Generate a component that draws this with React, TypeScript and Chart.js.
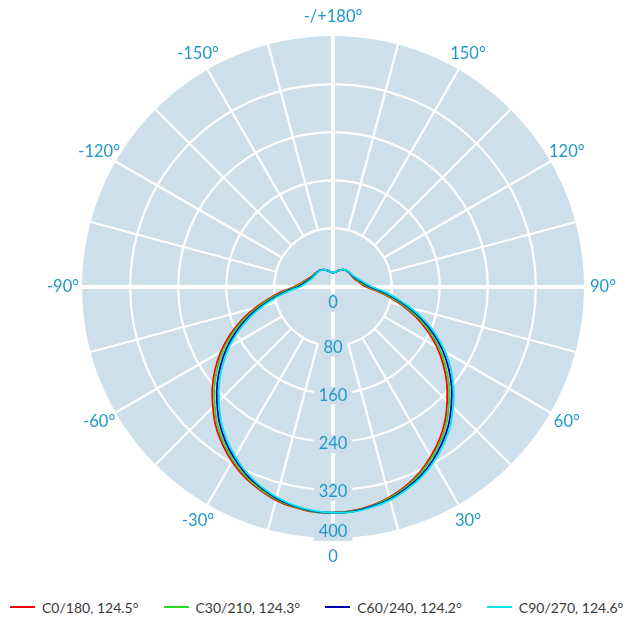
import React, { useEffect, useRef } from 'react';
import { Chart, registerables } from 'chart.js';

Chart.register(...registerables);

// Gamma angles (degrees), clockwise from top (180) through right (90), bottom (0), left (-90)
const gammaAngles = [
  180, 175, 170, 165, 160, 155, 150, 145, 140, 135, 130, 125, 120, 115, 110, 105, 100, 95,
  90, 85, 80, 75, 70, 65, 60, 55, 50, 45, 40, 35, 30, 25, 20, 15, 10, 5,
  0, -5, -10, -15, -20, -25, -30, -35, -40, -45, -50, -55, -60, -65, -70, -75, -80, -85,
  -90, -95, -100, -105, -110, -115, -120, -125, -130, -135, -140, -145, -150, -155, -160, -165, -170, -175,
];

const radialTicks = [0, 80, 160, 240, 320, 400];
const angleLabelValues = [180, 150, 120, 90, 60, 30, 0, -30, -60, -90, -120, -150];

// Luminous intensity (cd/klm) per C-plane, aligned with gammaAngles
const c0_180 = [
  6, 7, 8, 10, 12, 14, 16, 16.5, 17.5, 17.5, 18.5, 18, 19, 19.5, 21, 23.5, 27, 31,
  38, 55, 76.5, 102, 129.5, 156, 182, 206, 229.5, 251, 272.5, 291.5, 308, 323, 335, 344.5, 351.5, 356,
  358, 358, 354.5, 349.5, 341, 331, 318, 302.5, 285.5, 265, 244.5, 222, 198, 172, 144.5, 116, 89.5, 67,
  48, 39, 33, 28.5, 25, 22.5, 21, 20, 19.5, 18.5, 18.5, 17.5, 16, 14, 12, 10, 8, 7,
];
const c30_210 = [
  6, 7, 8, 10, 12, 14, 16, 16.8, 17.8, 17.8, 18.8, 18.6, 19.6, 20.4, 22.2, 25, 28.8, 33.4,
  41, 58.6, 80.4, 106.2, 134, 160.8, 186.8, 210.8, 234, 255.2, 276.4, 294.8, 311, 325.4, 336.8, 346, 352.4, 356.6,
  358, 357.4, 353.6, 348, 339.2, 328.6, 315, 299.2, 281.6, 260.8, 240, 217.2, 193.2, 167.2, 140, 111.8, 85.6, 63.4,
  45, 36.6, 31.2, 27, 23.8, 21.6, 20.4, 19.4, 19.2, 18.2, 18.2, 17.2, 16, 14, 12, 10, 8, 7,
];
const c60_240 = [
  6, 7, 8, 10, 12, 14, 16, 17.2, 18.2, 18.2, 19.2, 19.4, 20.4, 21.6, 23.8, 27, 31.2, 36.6,
  45, 63.4, 85.6, 111.8, 140, 167.2, 193.2, 217.2, 240, 260.8, 281.6, 299.2, 315, 328.6, 339.2, 348, 353.6, 357.4,
  358, 356.6, 352.4, 346, 336.8, 325.4, 311, 294.8, 276.4, 255.2, 234, 210.8, 186.8, 160.8, 134, 106.2, 80.4, 58.6,
  41, 33.4, 28.8, 25, 22.2, 20.4, 19.6, 18.6, 18.8, 17.8, 17.8, 16.8, 16, 14, 12, 10, 8, 7,
];
const c90_270 = [
  6, 7, 8, 10, 12, 14, 16, 17.5, 18.5, 18.5, 19.5, 20, 21, 22.5, 25, 28.5, 33, 39,
  48, 67, 89.5, 116, 144.5, 172, 198, 222, 244.5, 265, 285.5, 302.5, 318, 331, 341, 349.5, 354.5, 358,
  358, 356, 351.5, 344.5, 335, 323, 308, 291.5, 272.5, 251, 229.5, 206, 182, 156, 129.5, 102, 76.5, 55,
  38, 31, 27, 23.5, 21, 19.5, 19, 18, 18.5, 17.5, 17.5, 16.5, 16, 14, 12, 10, 8, 7,
];

const seriesNames = ['C0/180, 124.5°', 'C30/210, 124.3°', 'C60/240, 124.2°', 'C90/270, 124.6°'];
const seriesColors = ['#ff0000', '#22dd22', '#0000b4', '#00e6ee'];

const DISK = '#cddfeb';
const LABEL = '#1f98c9';
const FONT = 'Lato, "Open Sans", "DejaVu Sans", sans-serif';

const fmtAngle = (g: number) => (g === 180 ? '-/+180°' : g === 0 ? '0' : `${g}°`);

const polarDecor = {
  id: 'polarDecor',
  beforeDatasetsDraw(chart: any) {
    const s = chart.scales.r;
    const ctx = chart.ctx as CanvasRenderingContext2D;
    const cx = s.xCenter;
    const cy = s.yCenter;
    const R = s.drawingArea;
    const idx = (g: number) => gammaAngles.indexOf(g);
    const rInner = s.getDistanceFromCenterForValue(radialTicks[1]);
    ctx.save();
    // hole of the grid (inner ring)
    ctx.beginPath();
    ctx.arc(cx, cy, rInner, 0, Math.PI * 2);
    ctx.fillStyle = DISK;
    ctx.fill();
    ctx.lineWidth = 2.2;
    ctx.strokeStyle = '#ffffff';
    ctx.stroke();
    // main axes through center
    ctx.lineWidth = 4;
    [[180, 0], [90, -90]].forEach(([a, b]) => {
      const p1 = s.getPointPosition(idx(a), R);
      const p2 = s.getPointPosition(idx(b), R);
      ctx.beginPath();
      ctx.moveTo(p1.x, p1.y);
      ctx.lineTo(p2.x, p2.y);
      ctx.stroke();
    });
    // radial tick labels with backdrop
    ctx.font = `16.5px ${FONT}`;
    ctx.textAlign = 'center';
    ctx.textBaseline = 'middle';
    radialTicks.forEach((v) => {
      const d = s.getDistanceFromCenterForValue(v);
      const y = cy + Math.min(Math.max(d, 14), R - 8) + 2;
      const t = String(v);
      const w = ctx.measureText(t).width;
      ctx.fillStyle = DISK;
      ctx.fillRect(cx - w / 2 - 5, y - 9, w + 10, 18);
      ctx.fillStyle = LABEL;
      ctx.fillText(t, cx, y);
    });
    // angle labels
    angleLabelValues.forEach((g) => {
      const p = s.getPointPosition(idx(g), R + 19);
      ctx.fillStyle = LABEL;
      ctx.fillText(fmtAngle(g), p.x, p.y);
    });
    ctx.restore();
  },
};

export default function App() {
  const canvasRef = useRef<HTMLCanvasElement | null>(null);

  useEffect(() => {
    if (!canvasRef.current) return;
    const series = [c0_180, c30_210, c60_240, c90_270];
    const chart = new Chart(canvasRef.current, {
      type: 'radar',
      data: {
        labels: gammaAngles.map((g) => String(g)),
        datasets: series.map((d, i) => ({
          label: seriesNames[i],
          data: d,
          borderColor: seriesColors[i],
          backgroundColor: seriesColors[i],
          borderWidth: 1.8,
          pointRadius: 0,
          pointHoverRadius: 0,
          fill: false,
          tension: 0.2,
          order: 3 - i,
        })),
      },
      options: {
        animation: false,
        responsive: true,
        maintainAspectRatio: false,
        layout: { padding: { left: 82, right: 52, top: 36, bottom: 52 } },
        plugins: { legend: { display: false }, tooltip: { enabled: false } },
        scales: {
          r: {
            min: -17.5,
            max: 400,
            startAngle: 0,
            backgroundColor: DISK,
            afterBuildTicks: (scale: any) => {
              scale.ticks = radialTicks.map((v) => ({ value: v }));
            },
            ticks: { display: false },
            pointLabels: { display: false },
            grid: {
              circular: true,
              color: '#ffffff',
              lineWidth: (c: any) =>
                c.tick && (c.tick.value === radialTicks[0] || c.tick.value === radialTicks[radialTicks.length - 1]) ? 0 : 2.2,
            },
            angleLines: {
              display: true,
              color: '#ffffff',
              lineWidth: (c: any) => (c.index % 3 === 0 ? 2.2 : 0),
            },
          },
        },
      } as any,
      plugins: [polarDecor],
    });
    return () => chart.destroy();
  }, []);

  return (
    <div style={{ position: 'relative', width: 636, height: 621, overflow: 'hidden', background: '#fff' }}>
      <style>{`html,body{margin:0;padding:0;overflow:hidden;}`}</style>
      <div style={{ position: 'absolute', left: 0, top: 0, width: 636, height: 590 }}>
        <canvas ref={canvasRef} />
      </div>
      <div
        style={{
          position: 'absolute',
          left: 0,
          top: 596,
          width: 636,
          height: 22,
          boxSizing: 'border-box',
          paddingLeft: 10,
          display: 'flex',
          alignItems: 'center',
          gap: 25,
          fontFamily: FONT,
          fontSize: 14,
          color: '#3a3a3a',
          whiteSpace: 'nowrap',
        }}
      >
        {seriesNames.map((n, i) => (
          <div key={n} style={{ display: 'flex', alignItems: 'center' }}>
            <div
              style={{
                width: 25,
                height: 2,
                backgroundColor: seriesColors[i],
                marginRight: 7,
                flex: '0 0 auto',
              }}
            />
            <span>{n}</span>
          </div>
        ))}
      </div>
    </div>
  );
}
